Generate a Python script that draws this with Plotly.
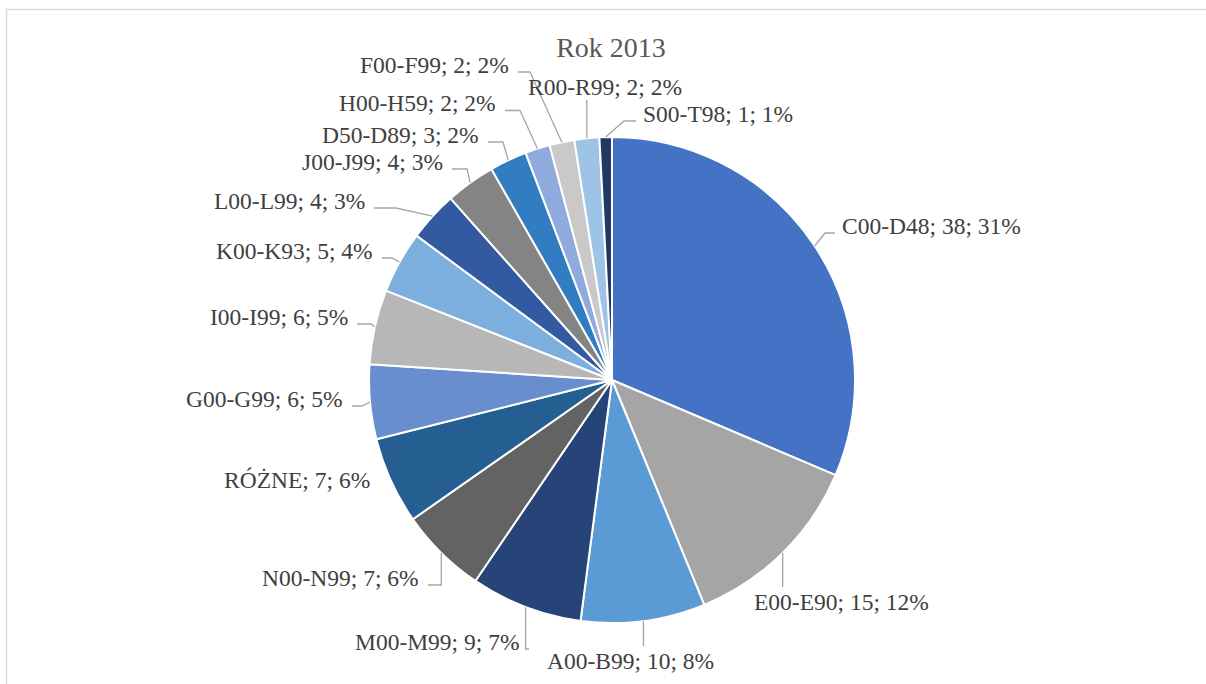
import math
import plotly.graph_objects as go

categories = ["C00-D48", "E00-E90", "A00-B99", "M00-M99", "N00-N99", "RÓŻNE",
              "G00-G99", "I00-I99", "K00-K93", "L00-L99", "J00-J99", "D50-D89",
              "H00-H59", "F00-F99", "R00-R99", "S00-T98"]
values = [38, 15, 10, 9, 7, 7, 6, 6, 5, 4, 4, 3, 2, 2, 2, 1]
colors = ["#4472C4", "#A5A5A5", "#5B9BD5", "#264478", "#636363", "#255E91",
          "#698ED0", "#B7B7B7", "#7CAFDD", "#335AA1", "#848484", "#327DC2",
          "#8FAADC", "#C9C9C9", "#9DC3E6", "#203864"]
title_text = "Rok 2013"

# ---- layout (pixels in the 1206x684 canvas) ----
W, H = 1206, 684
cx, cy, r = 612, 380, 243
FONT = "Liberation Serif"
LABEL_SIZE = 23.5
LEADER_COLOR = "#A6A6A6"

# label placement: side, x (edge or centre), y (text centre), elbow type, stub length
label_layout = {
    "C00-D48": dict(side="right", x=840, y=226, elbow="h", h=10),
    "E00-E90": dict(side="below", x=841, y=602),
    "A00-B99": dict(side="below", x=630, y=661),
    "M00-M99": dict(side="left", x=522, y=642, elbow="v"),
    "N00-N99": dict(side="left", x=421, y=578, elbow="v"),
    "RÓŻNE":   dict(side="left", x=372, y=480, elbow="none"),
    "G00-G99": dict(side="left", x=345, y=399, elbow="h", h=10),
    "I00-I99": dict(side="left", x=350, y=317, elbow="h", h=14),
    "K00-K93": dict(side="left", x=375, y=251, elbow="h", h=10),
    "L00-L99": dict(side="left", x=367, y=201, elbow="h", h=22),
    "J00-J99": dict(side="left", x=445, y=162, elbow="h", h=15),
    "D50-D89": dict(side="left", x=481, y=135, elbow="h", h=15),
    "H00-H59": dict(side="left", x=498, y=103.5, elbow="h", h=15),
    "F00-F99": dict(side="left", x=511, y=65, elbow="h", h=12),
    "R00-R99": dict(side="above", x=605, y=87),
    "S00-T98": dict(side="right", x=641, y=114, elbow="h", h=12),
}


def px(x):
    return x / W


def py(y):
    return 1 - y / H


fig = go.Figure(go.Pie(
    labels=categories,
    values=values,
    sort=False,
    direction="clockwise",
    rotation=0,
    marker=dict(colors=colors, line=dict(color="white", width=2)),
    textinfo="none",
    hoverinfo="label+value+percent",
    domain=dict(x=[px(cx - r), px(cx + r)], y=[py(cy + r), py(cy - r)]),
    showlegend=False,
))

total = sum(values)
annotations = []
shapes = [dict(type="rect", xref="paper", yref="paper",
               x0=px(6.5), x1=1.05, y0=-0.05, y1=py(9.5),
               line=dict(color="#D9D9D9", width=1.5),
               fillcolor="rgba(0,0,0,0)", layer="below")]

cum = 0
for cat, v in zip(categories, values):
    mid = (cum + v / 2) / total * 2 * math.pi
    cum += v
    ax = cx + r * math.sin(mid)
    ay = cy - r * math.cos(mid)
    L = label_layout[cat]
    pct = round(100 * v / total)
    text = f"{cat}; {v}; {pct}%"
    side = L["side"]
    xanchor = {"left": "right", "right": "left"}.get(side, "center")
    annotations.append(dict(
        x=px(L["x"]), y=py(L["y"]), xref="paper", yref="paper",
        text=text, showarrow=False, xanchor=xanchor, yanchor="middle",
        font=dict(family=FONT, size=LABEL_SIZE, color="#404040")))

    pts = None
    if side == "right":
        P = (L["x"] - 5, L["y"] + 7)
        E = (P[0] - L["h"], P[1])
        pts = [(ax, ay), E, P]
    elif side == "left":
        el = L["elbow"]
        P = (L["x"] + 7, L["y"] + 7)
        if el == "h":
            pts = [(ax, ay), (P[0] + L["h"], P[1]), P]
        elif el == "v":
            pts = [(ax, ay), (ax, P[1]), P]
    elif side == "below":
        pts = [(ax, ay), (ax, L["y"] - 15)]
    elif side == "above":
        pts = [(ax, ay), (ax, L["y"] + 13)]
    if pts:
        path = "M " + " L ".join(f"{px(a):.5f},{py(b):.5f}" for a, b in pts)
        shapes.append(dict(type="path", xref="paper", yref="paper", path=path,
                           line=dict(color=LEADER_COLOR, width=1.3)))

fig.update_layout(
    width=W, height=H,
    margin=dict(l=0, r=0, t=0, b=0),
    paper_bgcolor="white",
    title=dict(text=title_text, x=px(611), xanchor="center", y=py(47.5), yanchor="middle",
               xref="paper", yref="paper",
               font=dict(family=FONT, size=28, color="#595959")),
    annotations=annotations,
    shapes=shapes,
)

fig.write_html("out.html", config={"displayModeBar": False},
               post_script="document.body.style.margin='0';")
